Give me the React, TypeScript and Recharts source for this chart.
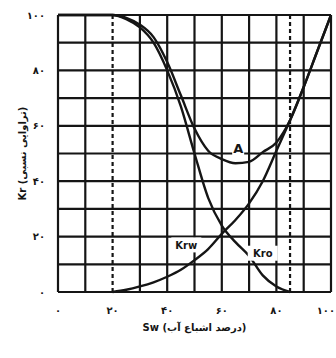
import { LineChart, Line, XAxis, YAxis, CartesianGrid, ReferenceLine, ReferenceDot, Label } from "recharts";

// water saturation (%) and relative permeabilities (%)
const krwSw = [20, 25, 30, 35, 40, 45, 50, 55, 60, 65, 70, 75, 80, 85, 90, 95, 100];
const krwVal = [0, 0.8, 2, 3.5, 5.5, 8, 11.5, 15.5, 21, 26, 32, 40, 51, 62, 74, 87, 100];

const kroSw = [0, 10, 20, 25, 30, 35, 40, 45, 50, 55, 60, 65, 70, 75, 80, 85];
const kroVal = [100, 100, 100, 98.5, 95.5, 90, 80, 67, 50, 34, 24, 18, 13, 6, 2, 0];

const sumSw = [0, 10, 20, 25, 30, 35, 40, 45, 50, 55, 60, 65, 70, 75, 80, 85, 90, 95, 100];
const sumVal = [100, 100, 100, 99, 96.5, 92, 83, 71, 59, 51, 48, 46.5, 47, 50.5, 54, 62, 74, 87, 100];

const xTicks = [0, 10, 20, 30, 40, 50, 60, 70, 80, 90, 100];
const yTicks = [0, 10, 20, 30, 40, 50, 60, 70, 80, 90, 100];
const solidVerticals = [0, 10, 30, 40, 50, 60, 70, 80, 90, 100];
const dashedVerticals = [20, 85];

const faDigits = (n: number) => String(n).replace(/\d/g, (d) => "۰۱۲۳۴۵۶۷۸۹"[Number(d)]);

const toPoints = (xs: number[], ys: number[]) => xs.map((sw, i) => ({ sw, kr: ys[i] }));

const krw = toPoints(krwSw, krwVal);
const kro = toPoints(kroSw, kroVal);
const sum = toPoints(sumSw, sumVal);

const INK = "#151515";
const FONT = "'DejaVu Sans', sans-serif";

function boxLabel(text: string, w: number, size: number) {
  return (p: any) => (
    <g>
      <rect x={p.cx - w / 2} y={p.cy - size * 0.75} width={w} height={size * 1.5} fill="#fff" />
      <text x={p.cx} y={p.cy + size * 0.38} textAnchor="middle" fontSize={size} fontWeight="bold" fontFamily={FONT} fill={INK}>
        {text}
      </text>
    </g>
  );
}

// x tick: only every 20, last one pulled in so it stays on the page
function XTick(p: any) {
  const v = p.payload.value;
  if (v % 20 !== 0) return null;
  const last = v === 100;
  return (
    <text x={last ? p.x + 4 : p.x} y={p.y + 14} textAnchor={last ? "end" : "middle"} fontSize={10} fontWeight="bold" fontFamily={FONT} fill={INK}>
      {faDigits(v)}
    </text>
  );
}

export default function App() {
  return (
    <div style={{ position: "absolute", left: 0, top: 0, background: "#fff" }}>
      <LineChart width={336} height={358} margin={{ top: 15, right: 5, left: 0, bottom: 0 }}>
        <CartesianGrid vertical={false} stroke={INK} strokeWidth={2.2} strokeDasharray="" />
        <XAxis
          type="number"
          dataKey="sw"
          domain={[0, 100]}
          ticks={xTicks}
          interval={0}
          height={66}
          axisLine={false}
          tickLine={false}
          tick={<XTick />}
        >
          <Label value="Sw (درصد اشباع آب)" position="insideBottom" offset={27} style={{ fontSize: 10, fontWeight: "bold", fill: INK, fontFamily: FONT }} />
        </XAxis>
        <YAxis
          type="number"
          domain={[0, 100]}
          ticks={yTicks}
          interval={0}
          width={58}
          axisLine={false}
          tickLine={false}
          tickFormatter={(v) => (v % 20 === 0 ? faDigits(v) : "")}
          tick={{ fontSize: 10, fontWeight: "bold", fill: INK, fontFamily: FONT }}
          tickMargin={7}
        >
          <Label value="Kr (تراوایی نسبی)" angle={-90} position="insideLeft" offset={22} style={{ fontSize: 10, fontWeight: "bold", fill: INK, fontFamily: FONT, textAnchor: "middle" }} />
        </YAxis>
        {solidVerticals.map((v) => (
          <ReferenceLine key={v} x={v} stroke={INK} strokeWidth={2.2} ifOverflow="visible" />
        ))}
        {dashedVerticals.map((v) => (
          <ReferenceLine key={"d" + v} x={v} stroke={INK} strokeWidth={2.2} strokeDasharray="4 3" />
        ))}
        <ReferenceDot x={47} y={17} r={0} shape={boxLabel("Krw", 30, 10)} />
        <ReferenceDot x={75} y={14} r={0} shape={boxLabel("Kro", 30, 10)} />
        <ReferenceDot x={66} y={52} r={0} shape={boxLabel("A", 12, 13)} />
        <Line data={kro} dataKey="kr" type="monotone" stroke={INK} strokeWidth={2.4} dot={false} isAnimationActive={false} />
        <Line data={krw} dataKey="kr" type="monotone" stroke={INK} strokeWidth={2.4} dot={false} isAnimationActive={false} />
        <Line data={sum} dataKey="kr" type="monotone" stroke={INK} strokeWidth={2.4} dot={false} isAnimationActive={false} />
      </LineChart>
    </div>
  );
}
